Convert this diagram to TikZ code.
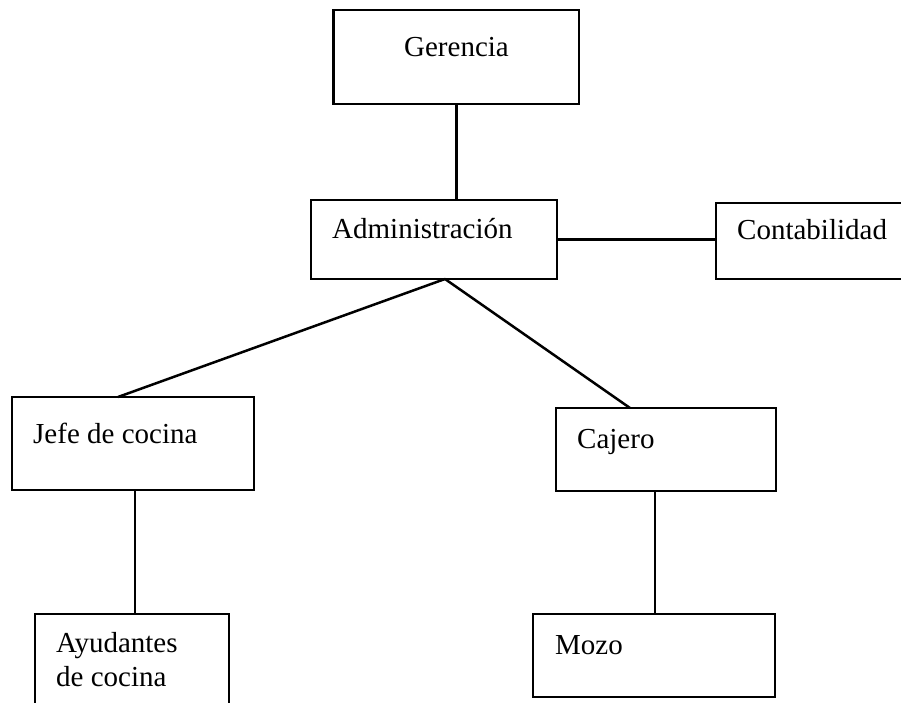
\documentclass[tikz,border=0pt]{standalone}
\usepackage{fontspec}
\setmainfont{Liberation Serif}
\begin{document}
\begin{tikzpicture}[x=1pt,y=1pt,
  box/.style={draw=black,line width=2.5pt,rectangle,inner sep=0pt},
  lbl/.style={inner sep=0pt,font=\fontsize{29}{34}\selectfont},
  conn/.style={draw=black,line width=2.5pt}]
\useasboundingbox (0,0) rectangle (901,702);
\clip (0,0) rectangle (901,702);
% boxes
\node[box,minimum width=245.5pt,minimum height=94pt] (ger) at (456.25,645) {};
\node[box,minimum width=246pt,minimum height=79pt] (adm) at (434,462.5) {};
\node[box,minimum width=194pt,minimum height=76pt] (con) at (813,461) {};
\node[box,minimum width=242pt,minimum height=93pt] (jef) at (133,258.5) {};
\node[box,minimum width=220pt,minimum height=83pt] (caj) at (666,252.5) {};
\node[box,minimum width=194pt,minimum height=106pt] (ayu) at (132,35) {};
\node[box,minimum width=242pt,minimum height=83pt] (moz) at (654,46.5) {};
% labels
\node[lbl,anchor=base] (gert) at (456.5,645) {Gerencia};
\node[lbl,anchor=base west] (admt) at (332,463) {Administración};
\node[lbl,anchor=base west] (cont) at (737,462) {Contabilidad};
\node[lbl,anchor=base west] (jeft) at (33,259) {Jefe de cocina};
\node[lbl,anchor=base west] (cajt) at (577,254) {Cajero};
\node[lbl,anchor=base west] (ayut1) at (56,50) {Ayudantes};
\node[lbl,anchor=base west] (ayut2) at (56,16) {de cocina};
\node[lbl,anchor=base west] (mozt) at (555,48) {Mozo};
% connector points
\coordinate (admb) at (445,423);
\coordinate (jefa) at (118,305);
\coordinate (caja) at (630,294);
\coordinate (jefb) at (135,212);
\coordinate (cajb) at (655,211);
% connectors
\draw[conn] (ger.south) -- (ger.south |- adm.north);
\draw[conn] (adm.east) -- (adm.east -| con.west);
\draw[conn] (admb) -- (jefa);
\draw[conn] (admb) -- (caja);
\draw[conn] (jefb) -- (jefb |- ayu.north);
\draw[conn] (cajb) -- (cajb |- moz.north);
\end{tikzpicture}
\end{document}
